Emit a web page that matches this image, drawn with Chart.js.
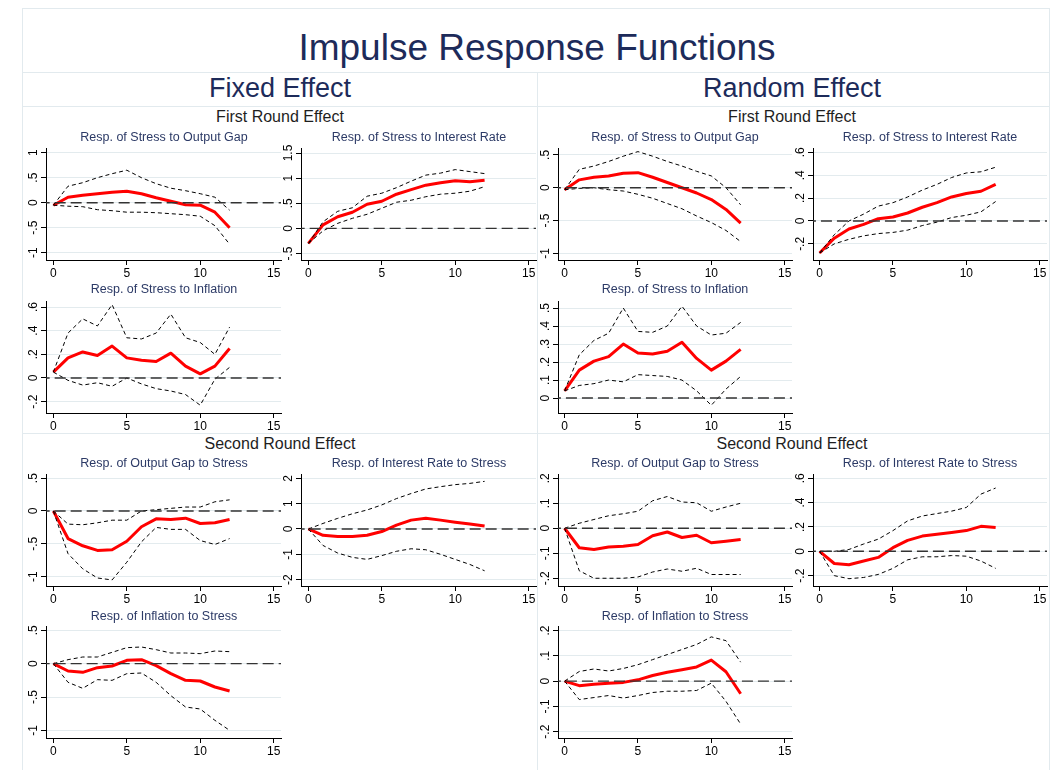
<!DOCTYPE html>
<html>
<head>
<meta charset="utf-8">
<script src="https://cdn.jsdelivr.net/npm/chart.js@4.4.0/dist/chart.umd.min.js"></script>
<style>
  body { margin: 0; background: #fff; font-family: "Liberation Sans", Arial, sans-serif; }
  #page { position: relative; width: 1058px; height: 770px; overflow: hidden; background: #fff; }
  .txt { position: absolute; white-space: nowrap; transform: translate(-50%, -50%); line-height: 1; }
  .rule { position: absolute; background: #e2eaee; }
  canvas { position: absolute; }
</style>
</head>
<body>
<div id="page"></div>
<script>
// horizon (periods after the shock)
const horizon = [0, 1, 2, 3, 4, 5, 6, 7, 8, 9, 10, 11, 12]
const xTicks = [0, 5, 10, 15]

// ---- Fixed effect, first round ----
const feStressGap = [-0.05, 0.11, 0.15, 0.18, 0.21, 0.23, 0.18, 0.10, 0.03, -0.04, -0.05, -0.19, -0.50]
const feStressGapUp = [-0.05, 0.33, 0.40, 0.50, 0.58, 0.65, 0.50, 0.38, 0.29, 0.24, 0.18, 0.11, -0.15]
const feStressGapLo = [-0.05, -0.07, -0.08, -0.14, -0.16, -0.19, -0.19, -0.20, -0.22, -0.24, -0.27, -0.46, -0.83]

const feStressRate = [-0.30, 0.07, 0.23, 0.32, 0.48, 0.54, 0.68, 0.77, 0.86, 0.91, 0.95, 0.93, 0.96]
const feStressRateUp = [-0.30, 0.13, 0.34, 0.41, 0.64, 0.70, 0.81, 0.94, 1.06, 1.10, 1.17, 1.13, 1.09]
const feStressRateLo = [-0.30, -0.05, 0.10, 0.20, 0.28, 0.40, 0.52, 0.56, 0.63, 0.68, 0.70, 0.74, 0.83]

const feStressInfl = [0.05, 0.17, 0.22, 0.19, 0.27, 0.17, 0.15, 0.14, 0.21, 0.10, 0.035, 0.10, 0.25]
const feStressInflUp = [0.05, 0.38, 0.50, 0.44, 0.62, 0.34, 0.33, 0.38, 0.54, 0.34, 0.30, 0.20, 0.43]
const feStressInflLo = [0.05, -0.02, -0.06, -0.04, -0.07, 0.00, -0.05, -0.09, -0.11, -0.14, -0.23, -0.01, 0.09]

// ---- Random effect, first round ----
const reStressGap = [-0.03, 0.12, 0.16, 0.18, 0.22, 0.23, 0.16, 0.08, 0.00, -0.08, -0.18, -0.33, -0.54]
const reStressGapUp = [-0.03, 0.28, 0.33, 0.40, 0.48, 0.55, 0.48, 0.40, 0.33, 0.25, 0.18, 0.00, -0.26]
const reStressGapLo = [-0.03, -0.01, 0.00, -0.03, -0.05, -0.10, -0.16, -0.24, -0.32, -0.43, -0.53, -0.65, -0.82]

const reStressRate = [-0.28, -0.15, -0.07, -0.03, 0.02, 0.035, 0.07, 0.12, 0.16, 0.21, 0.24, 0.26, 0.32]
const reStressRateUp = [-0.28, -0.12, 0.00, 0.06, 0.13, 0.16, 0.21, 0.27, 0.32, 0.38, 0.42, 0.43, 0.47]
const reStressRateLo = [-0.28, -0.20, -0.16, -0.13, -0.11, -0.10, -0.08, -0.04, -0.01, 0.03, 0.05, 0.08, 0.17]

const reStressInfl = [0.04, 0.155, 0.205, 0.23, 0.30, 0.25, 0.245, 0.26, 0.31, 0.22, 0.155, 0.205, 0.27]
const reStressInflUp = [0.04, 0.24, 0.32, 0.36, 0.50, 0.37, 0.365, 0.40, 0.51, 0.40, 0.35, 0.36, 0.42]
const reStressInflLo = [0.04, 0.07, 0.08, 0.10, 0.09, 0.13, 0.125, 0.12, 0.10, 0.04, -0.04, 0.05, 0.12]

// ---- Fixed effect, second round ----
const feGapStress = [0.00, -0.42, -0.53, -0.60, -0.59, -0.46, -0.24, -0.12, -0.13, -0.11, -0.19, -0.18, -0.13]
const feGapStressUp = [0.00, -0.20, -0.21, -0.18, -0.14, -0.14, 0.00, 0.02, 0.04, 0.06, 0.06, 0.14, 0.17]
const feGapStressLo = [0.00, -0.65, -0.88, -1.02, -1.05, -0.78, -0.47, -0.25, -0.28, -0.28, -0.45, -0.51, -0.42]

const feRateStress = [0.00, -0.25, -0.30, -0.30, -0.25, -0.10, 0.15, 0.35, 0.42, 0.35, 0.27, 0.20, 0.12]
const feRateStressUp = [0.00, 0.22, 0.42, 0.60, 0.75, 0.95, 1.20, 1.40, 1.58, 1.67, 1.75, 1.80, 1.88]
const feRateStressLo = [0.00, -0.65, -0.95, -1.12, -1.20, -1.05, -0.88, -0.78, -0.82, -1.00, -1.20, -1.40, -1.65]

const feInflStress = [0.00, -0.11, -0.13, -0.06, -0.035, 0.05, 0.06, -0.03, -0.15, -0.25, -0.26, -0.35, -0.41]
const feInflStressUp = [0.00, 0.06, 0.10, 0.10, 0.17, 0.24, 0.25, 0.21, 0.16, 0.16, 0.15, 0.19, 0.18]
const feInflStressLo = [0.00, -0.28, -0.37, -0.24, -0.25, -0.15, -0.14, -0.28, -0.48, -0.65, -0.68, -0.85, -1.00]

// ---- Random effect, second round ----
const reGapStress = [0.00, -0.078, -0.085, -0.075, -0.072, -0.065, -0.030, -0.015, -0.037, -0.028, -0.058, -0.052, -0.045]
const reGapStressUp = [0.00, 0.020, 0.035, 0.050, 0.058, 0.068, 0.110, 0.127, 0.105, 0.102, 0.068, 0.085, 0.100]
const reGapStressLo = [0.00, -0.170, -0.200, -0.200, -0.200, -0.195, -0.175, -0.163, -0.172, -0.160, -0.185, -0.185, -0.185]

const reRateStress = [0.00, -0.10, -0.11, -0.08, -0.05, 0.03, 0.09, 0.125, 0.14, 0.155, 0.17, 0.205, 0.195]
const reRateStressUp = [0.00, 0.00, 0.015, 0.06, 0.10, 0.17, 0.25, 0.29, 0.31, 0.33, 0.36, 0.47, 0.52]
const reRateStressLo = [0.00, -0.20, -0.225, -0.215, -0.19, -0.14, -0.07, -0.045, -0.045, -0.035, -0.04, -0.08, -0.14]

const reInflStress = [0.00, -0.018, -0.012, -0.008, -0.005, 0.005, 0.022, 0.035, 0.045, 0.056, 0.083, 0.037, -0.050]
const reInflStressUp = [0.00, 0.038, 0.048, 0.040, 0.050, 0.065, 0.085, 0.105, 0.125, 0.145, 0.175, 0.160, 0.075]
const reInflStressLo = [0.00, -0.073, -0.065, -0.057, -0.067, -0.057, -0.045, -0.040, -0.040, -0.037, -0.008, -0.080, -0.170]

// y tick values for each panel
const ticksOneHalf = [-1, -0.5, 0, 0.5, 1]
const ticksRateFE = [-0.5, 0, 0.5, 1, 1.5]
const ticksGapRE = [-1, -0.5, 0, 0.5]
const ticksPointTwo = [-0.2, 0, 0.2, 0.4, 0.6]
const ticksPointOne = [0, 0.1, 0.2, 0.3, 0.4, 0.5]
const ticksHalfDown = [-1, -0.5, 0, 0.5]
const ticksTwo = [-2, -1, 0, 1, 2]
const ticksSmall = [-0.2, -0.1, 0, 0.1, 0.2]

// layout of the grid of small graphs
const colAxisX = [46, 301, 558, 813]
const colXMin = [-0.5, -0.5, -0.45, -0.45]
const colTitleX = [164, 419, 675, 930]
const rowTop = [148, 301, 474, 626]
const rowTitleY = [137, 289, 463, 616]
const plotH = 112
const pxPerPeriod = 14.7
const xMax = 15.5

const panels = [
  {col: 0, row: 0, title: 'Resp. of Stress to Output Gap', irf: feStressGap, up: feStressGapUp, lo: feStressGapLo, yTicks: ticksOneHalf, yMin: -1.146, yMax: 1.094},
  {col: 1, row: 0, title: 'Resp. of Stress to Interest Rate', irf: feStressRate, up: feStressRateUp, lo: feStressRateLo, yTicks: ticksRateFE, yMin: -0.63, yMax: 1.6},
  {col: 2, row: 0, title: 'Resp. of Stress to Output Gap', irf: reStressGap, up: reStressGapUp, lo: reStressGapLo, yTicks: ticksGapRE, yMin: -1.10, yMax: 0.605},
  {col: 3, row: 0, title: 'Resp. of Stress to Interest Rate', irf: reStressRate, up: reStressRateUp, lo: reStressRateLo, yTicks: [-0.2, 0, 0.2, 0.4, 0.6], yMin: -0.341, yMax: 0.638},
  {col: 0, row: 1, title: 'Resp. of Stress to Inflation', irf: feStressInfl, up: feStressInflUp, lo: feStressInflLo, yTicks: ticksPointTwo, yMin: -0.296, yMax: 0.651},
  {col: 2, row: 1, title: 'Resp. of Stress to Inflation', irf: reStressInfl, up: reStressInflUp, lo: reStressInflLo, yTicks: ticksPointOne, yMin: -0.083, yMax: 0.539},
  {col: 0, row: 2, title: 'Resp. of Output Gap to Stress', irf: feGapStress, up: feGapStressUp, lo: feGapStressLo, yTicks: ticksHalfDown, yMin: -1.142, yMax: 0.563},
  {col: 1, row: 2, title: 'Resp. of Interest Rate to Stress', irf: feRateStress, up: feRateStressUp, lo: feRateStressLo, yTicks: ticksTwo, yMin: -2.25, yMax: 2.17},
  {col: 2, row: 2, title: 'Resp. of Output Gap to Stress', irf: reGapStress, up: reGapStressUp, lo: reGapStressLo, yTicks: ticksSmall, yMin: -0.231, yMax: 0.217},
  {col: 3, row: 2, title: 'Resp. of Interest Rate to Stress', irf: reRateStress, up: reRateStressUp, lo: reRateStressLo, yTicks: ticksPointTwo, yMin: -0.285, yMax: 0.635},
  {col: 0, row: 3, title: 'Resp. of Inflation to Stress', irf: feInflStress, up: feInflStressUp, lo: feInflStressLo, yTicks: ticksHalfDown, yMin: -1.115, yMax: 0.565},
  {col: 2, row: 3, title: 'Resp. of Inflation to Stress', irf: reInflStress, up: reInflStressUp, lo: reInflStressLo, yTicks: ticksSmall, yMin: -0.225, yMax: 0.218},
]

const FONT = '"Liberation Sans", Arial, sans-serif'
const page = document.getElementById('page')

// stata style numbers: .5, -.5, 1.5
const stataLabel = (v) => {
  if (v === 0) return '0'
  let s = String(Math.abs(v)).replace(/^0\./, '.')
  return (v < 0 ? '-' : '') + s
}

const addText = (str, x, y, size, color) => {
  let d = document.createElement('div')
  d.className = 'txt'
  d.textContent = str
  d.style.left = x + 'px'
  d.style.top = y + 'px'
  d.style.fontSize = size + 'px'
  d.style.color = color
  page.appendChild(d)
}

const addRule = (x, y, w, h) => {
  let d = document.createElement('div')
  d.className = 'rule'
  d.style.left = x + 'px'
  d.style.top = y + 'px'
  d.style.width = w + 'px'
  d.style.height = h + 'px'
  page.appendChild(d)
}

// faint frame lines of the combined graph
addRule(22, 8, 1028, 1)
addRule(22, 8, 1, 762)
addRule(1049, 8, 1, 762)
addRule(22, 72, 1028, 1)
addRule(22, 106, 1028, 1)
addRule(537, 72, 1, 698)
addRule(22, 433, 1028, 1)

addText('Impulse Response Functions', 537, 47, 37, '#1d2b5a')
addText('Fixed Effect', 280, 88, 27, '#1d2b5a')
addText('Random Effect', 792, 88, 27, '#1d2b5a')
addText('First Round Effect', 280, 117, 16, '#1e1e1e')
addText('First Round Effect', 792, 117, 16, '#1e1e1e')
addText('Second Round Effect', 280, 444, 16, '#1e1e1e')
addText('Second Round Effect', 792, 444, 16, '#1e1e1e')

// draws the y tick labels turned upright like stata does
const rotatedYLabels = {
  id: 'rotatedYLabels',
  afterDraw(chart) {
    const ys = chart.scales.y
    const ctx = chart.ctx
    ctx.save()
    ctx.fillStyle = '#000'
    ctx.font = '12px ' + FONT
    ctx.textAlign = 'center'
    ctx.textBaseline = 'middle'
    ys.ticks.forEach((t) => {
      const py = ys.getPixelForValue(t.value)
      ctx.save()
      ctx.translate(ys.right - 12.5, py)
      ctx.rotate(-Math.PI / 2)
      ctx.fillText(stataLabel(t.value), 0, 0)
      ctx.restore()
    })
    ctx.restore()
  }
}

const toPoints = (vals) => horizon.map((h, i) => ({x: h, y: vals[i]}))

const generateChart = (p) => {
  const yAxisW = 30
  const padTop = 6
  const padRight = 12
  const xAxisH = 24
  const xMin = colXMin[p.col]
  const plotW = (xMax - xMin) * pxPerPeriod
  const canvas = document.createElement('canvas')
  const w = Math.round(yAxisW + plotW + padRight)
  const h = padTop + plotH + xAxisH
  canvas.width = w
  canvas.height = h
  canvas.style.width = w + 'px'
  canvas.style.height = h + 'px'
  canvas.style.left = Math.round(colAxisX[p.col] - yAxisW) + 'px'
  canvas.style.top = (rowTop[p.row] - padTop) + 'px'
  page.appendChild(canvas)

  addText(p.title, colTitleX[p.col], rowTitleY[p.row], 12.5, '#2c3a66')

  new Chart(canvas, {
    type: 'line',
    data: {
      datasets: [
        {data: [{x: -1, y: 0}, {x: 17, y: 0}], borderColor: '#333', borderWidth: 1.4, borderDash: [11, 5], pointRadius: 0},
        {data: toPoints(p.up), borderColor: '#000', borderWidth: 1, borderDash: [4, 3], pointRadius: 0},
        {data: toPoints(p.lo), borderColor: '#000', borderWidth: 1, borderDash: [4, 3], pointRadius: 0},
        {data: toPoints(p.irf), borderColor: '#ff0000', borderWidth: 3, pointRadius: 0, borderJoinStyle: 'round'},
      ]
    },
    options: {
      responsive: false,
      animation: false,
      devicePixelRatio: 1,
      events: [],
      layout: {padding: {top: padTop, right: padRight, left: 0, bottom: 0}},
      plugins: {legend: {display: false}, tooltip: {enabled: false}},
      scales: {
        x: {
          type: 'linear',
          min: xMin,
          max: xMax,
          afterBuildTicks: (s) => { s.ticks = xTicks.map((v) => ({value: v})) },
          afterFit: (s) => { s.height = xAxisH },
          grid: {drawOnChartArea: false, tickLength: 5, tickColor: '#000', tickWidth: 1},
          border: {color: '#000', width: 1},
          ticks: {color: '#000', font: {size: 12, family: FONT}, padding: 1, maxRotation: 0, autoSkip: false}
        },
        y: {
          type: 'linear',
          min: p.yMin,
          max: p.yMax,
          afterBuildTicks: (s) => { s.ticks = p.yTicks.map((v) => ({value: v})) },
          afterFit: (s) => { s.width = yAxisW },
          grid: {color: '#e3ebee', lineWidth: 1, tickLength: 5, tickColor: '#000', tickWidth: 1},
          border: {color: '#000', width: 1},
          ticks: {display: false}
        }
      }
    },
    plugins: [rotatedYLabels]
  })
}

panels.forEach((p) => generateChart(p))
</script>
</body>
</html>
